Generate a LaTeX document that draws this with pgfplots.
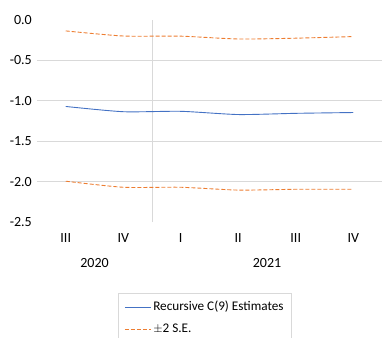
\documentclass[border=0pt]{standalone}
\usepackage{pgfplots}
\pgfplotsset{compat=1.18}
\usepackage{fontspec}
\setmainfont{Carlito}
\definecolor{exblue}{HTML}{4472C4}
\definecolor{exorange}{HTML}{ED7D31}
\definecolor{grid}{HTML}{D9D9D9}
\begin{document}
\begin{tikzpicture}
\useasboundingbox (0pt,0pt) rectangle (392pt,-338pt);
\begin{axis}[
  at={(37pt,-222pt)}, anchor=south west,
  scale only axis, width=345pt, height=202pt,
  xmin=-0.5, xmax=5.5, ymin=-2.5, ymax=0,
  axis line style={draw=none},
  major tick length=0pt,
  xtick={0,1,2,3,4,5},
  xticklabels={III,IV,I,II,III,IV},
  ytick={-2.5,-2,-1.5,-1,-0.5,0},
  yticklabel style={/pgf/number format/fixed, /pgf/number format/fixed zerofill, /pgf/number format/precision=1, inner sep=0pt, anchor=east, xshift=-5pt},
  /pgf/number format/assume math mode=true,
  xticklabel style={inner sep=0pt, anchor=north, yshift=-11pt},
  tick label style={font=\fontsize{14}{16}\selectfont},
  extra y ticks={-2,-1.5,-1,-0.5},
  extra y tick labels={},
  extra y tick style={grid=major, major grid style={grid, line width=0.8pt}},
  extra x ticks={1.5},
  extra x tick labels={},
  extra x tick style={grid=major, major grid style={grid, line width=0.8pt}},
  clip=false,
  legend image code/.code={\draw[#1] (0pt,0pt) -- (26pt,0pt);},
  legend style={at={(axis description cs:0.235,-0.351)}, anchor=north west, draw=grid, line width=0.6pt,
    font=\fontsize{13.2}{15}\selectfont, inner xsep=6pt, inner ysep=6pt, row sep=7pt,
    nodes={inner sep=2pt, text depth=0.2em}, legend cell align=left},
]
\addplot[exblue, line width=0.9pt, smooth, tension=0.4] coordinates {
(0,-1.07) (1,-1.135) (2,-1.13) (3,-1.17) (4,-1.155) (5,-1.145)};
\addlegendentry{Recursive C(9) Estimates}
\addplot[exorange, line width=0.9pt, dash pattern=on 4pt off 2pt, smooth, tension=0.4] coordinates {
(0,-0.135) (1,-0.198) (2,-0.200) (3,-0.235) (4,-0.225) (5,-0.205)};
\addlegendentry{$\pm$2 S.E.}
\addplot[exorange, line width=0.9pt, dash pattern=on 4pt off 2pt, smooth, tension=0.4, forget plot] coordinates {
(0,-1.995) (1,-2.07) (2,-2.07) (3,-2.105) (4,-2.095) (5,-2.095)};
\node[font=\fontsize{14}{16}\selectfont, inner sep=0pt] at (axis cs:0.5,-2.5) [yshift=-41pt] {2020};
\node[font=\fontsize{14}{16}\selectfont, inner sep=0pt] at (axis cs:3.5,-2.5) [yshift=-41pt] {2021};
\end{axis}
\end{tikzpicture}
\end{document}
